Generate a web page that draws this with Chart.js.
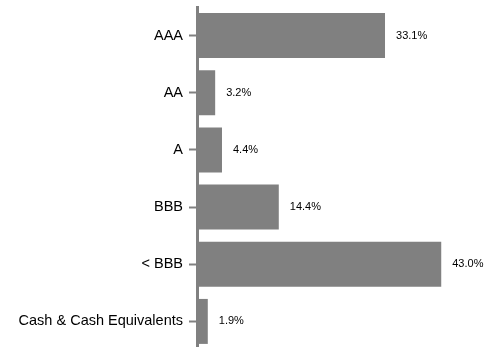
<!DOCTYPE html>
<html>
<head>
<meta charset="utf-8">
<script src="https://cdn.jsdelivr.net/npm/chart.js@4/dist/chart.umd.min.js"></script>
<style>
  html, body { margin: 0; padding: 0; background: #fff; overflow: hidden; }
  #wrap { width: 499px; height: 351px; position: relative; }
</style>
</head>
<body>
<div id="wrap"><canvas id="c" width="499" height="351"></canvas></div>
<script>
// Credit quality breakdown (% of portfolio)
const categories = ['AAA', 'AA', 'A', 'BBB', '< BBB', 'Cash & Cash Equivalents'];
const allocations = [33.1, 3.2, 4.4, 14.4, 43.0, 1.9];

const barGray = '#808080';

// Writes the percentage just past the end of each bar
const valueLabels = {
  id: 'valueLabels',
  afterDatasetsDraw(chart) {
    const ctx = chart.ctx;
    const meta = chart.getDatasetMeta(0);
    ctx.save();
    ctx.font = '11px "Liberation Sans", Arial, sans-serif';
    ctx.fillStyle = '#000';
    ctx.textAlign = 'left';
    ctx.textBaseline = 'middle';
    meta.data.forEach((bar, i) => {
      ctx.fillText(allocations[i].toFixed(1) + '%', bar.x + 11, bar.y);
    });
    ctx.restore();
  }
};

new Chart(document.getElementById('c'), {
  type: 'bar',
  data: {
    labels: categories,
    datasets: [{
      data: allocations,
      backgroundColor: barGray,
      borderWidth: 0,
      categoryPercentage: 1,
      barPercentage: 0.787
    }]
  },
  options: {
    indexAxis: 'y',
    responsive: false,
    animation: false,
    layout: { padding: { top: 7, bottom: 1, right: 18, left: 0 } },
    plugins: { legend: { display: false }, tooltip: { enabled: false } },
    scales: {
      x: {
        display: false,
        min: 0,
        max: 50
      },
      y: {
        afterFit(scale) {
          scale.width = 197;
          scale.paddingTop = 0;
          scale.paddingBottom = 0;
        },
        border: { display: true, color: barGray, width: 3 },
        grid: {
          display: true,
          offset: false,
          drawOnChartArea: false,
          drawTicks: true,
          tickLength: 8,
          tickWidth: 2,
          tickColor: barGray
        },
        ticks: {
          padding: 6,
          color: '#000',
          font: { family: '"Liberation Sans", Arial, sans-serif', size: 14.5 }
        }
      }
    }
  },
  plugins: [valueLabels]
});
</script>
</body>
</html>
